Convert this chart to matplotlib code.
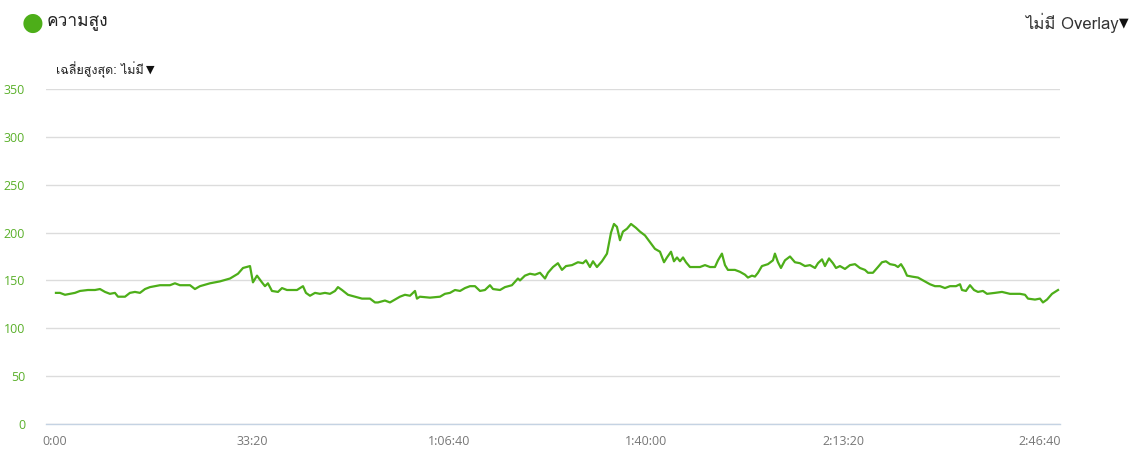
import matplotlib
matplotlib.use("Agg")
import matplotlib.pyplot as plt
from matplotlib import font_manager
from matplotlib.ticker import FuncFormatter

# ---------------- data ----------------
elapsed_s = [10, 51, 102, 152, 203, 254, 335, 406, 457, 508, 558, 609, 640, 711, 761, 812, 863,
             914, 964, 1066, 1167, 1218, 1269, 1371, 1421, 1472, 1574, 1675, 1777, 1858, 1909,
             1980, 2010, 2051, 2101, 2132, 2162, 2203, 2264, 2305, 2355, 2416, 2457, 2487, 2518,
             2548, 2589, 2640, 2690, 2741, 2792, 2843, 2873, 2914, 2975, 3046, 3117, 3198, 3249,
             3279, 3350, 3401, 3452, 3502, 3553, 3604, 3655, 3675, 3705, 3807, 3909, 3959, 4010,
             4061, 4112, 4162, 4213, 4264, 4315, 4365, 4416, 4447, 4518, 4568, 4639, 4700, 4721,
             4771, 4822, 4873, 4924, 4975, 5005, 5056, 5106, 5147, 5188, 5249, 5309, 5360, 5391,
             5431, 5462, 5502, 5553, 5604, 5645, 5675, 5705, 5736, 5766, 5807, 5848, 5898, 5939,
             5990, 6040, 6091, 6142, 6183, 6213, 6254, 6284, 6315, 6345, 6376, 6406, 6447, 6548,
             6599, 6650, 6700, 6731, 6771, 6802, 6832, 6903, 6954, 7005, 7035, 7076, 7106, 7137,
             7177, 7238, 7289, 7309, 7340, 7370, 7411, 7462, 7512, 7563, 7614, 7665, 7716, 7746,
             7787, 7817, 7858, 7898, 7929, 7969, 8020, 8071, 8122, 8172, 8223, 8254, 8304, 8355,
             8396, 8436, 8477, 8528, 8558, 8589, 8619, 8650, 8700, 8761, 8832, 8883, 8934, 8985,
             9035, 9086, 9147, 9188, 9208, 9248, 9289, 9330, 9370, 9421, 9462, 9543, 9614, 9695,
             9797, 9848, 9878, 9949, 10000, 10030, 10071, 10122, 10183]
elevation_m = [137, 137, 135, 136, 137, 139, 140, 140, 141, 138, 136, 137, 133, 133, 137, 138, 137,
               141, 143, 145, 145, 147, 145, 145, 141, 144, 147, 149, 152, 157, 163,
               165, 148, 155, 148, 144, 147, 139, 138, 142, 140, 140, 140, 142, 144,
               137, 134, 137, 136, 137, 136, 139, 143, 140, 135, 133, 131, 131, 127,
               127, 129, 127, 130, 133, 135, 134, 139, 131, 133, 132, 133, 136, 137,
               140, 139, 142, 144, 144, 139, 140, 145, 141, 140, 143, 145, 152, 150,
               155, 157, 156, 158, 152, 158, 164, 168, 161, 165, 166, 169, 168, 171,
               164, 170, 164, 170, 178, 200, 209, 206, 192, 201, 204, 209, 205, 201,
               197, 190, 183, 180, 169, 174, 180, 170, 174, 170, 174, 169, 164, 164,
               166, 164, 164, 171, 178, 166, 161, 161, 159, 156, 153, 155, 154, 158,
               165, 167, 171, 178, 169, 163, 171, 175, 169, 168, 165, 166, 163, 168,
               172, 165, 173, 168, 163, 165, 162, 166, 167, 163, 161, 158, 158, 164,
               169, 170, 167, 166, 164, 167, 162, 155, 154, 153, 149, 146, 144, 144,
               142, 144, 144, 146, 140, 139, 145, 140, 138, 139, 136, 137, 138, 136,
               136, 135, 131, 130, 131, 127, 130, 136, 140]

y_ticks = [0, 50, 100, 150, 200, 250, 300, 350]
x_ticks = [0, 2000, 4000, 6000, 8000, 10000]

title_text = "ความสูง"
avg_text = "เฉลี่ยสูงสุด: ไม่มี"
overlay_text = "ไม่มี Overlay"

# ---------------- fonts ----------------
def find_thai_font():
    try:
        from fontTools.ttLib import TTFont
    except Exception:
        return None
    for f in font_manager.fontManager.ttflist:
        try:
            tt = TTFont(f.fname, fontNumber=0, lazy=True)
            cmap = tt.getBestCmap()
            if cmap and ord("ค") in cmap and ord("ม") in cmap:
                return f.name
        except Exception:
            continue
    return None

thai = find_thai_font()
fams = ([thai] if thai else []) + ["DejaVu Sans"]
plt.rcParams["font.family"] = fams

GREEN = "#4dae19"
TICK_GREEN = "#5ab02a"

fig = plt.figure(figsize=(11.43, 4.49), dpi=100)
ax = fig.add_axes([46 / 1143, 25 / 449, (1060 - 46) / 1143, 335 / 449])

ax.plot(elapsed_s, elevation_m, color=GREEN, lw=1.6, solid_joinstyle="round")

ax.set_xlim(-91, 10203)
ax.set_ylim(0, 350)
ax.set_yticks(y_ticks)
ax.set_xticks(x_ticks)

def fmt_time(t, pos):
    t = int(round(t))
    h, rem = divmod(t, 3600)
    m, s = divmod(rem, 60)
    if h:
        return f"{h}:{m:02d}:{s:02d}"
    return f"{m}:{s:02d}"

ax.xaxis.set_major_formatter(FuncFormatter(fmt_time))
ax.grid(axis="y", color="#dcdcdc", lw=1.0)
ax.set_axisbelow(True)
for sp in ["top", "right", "left"]:
    ax.spines[sp].set_visible(False)
ax.spines["bottom"].set_color("#c5d3e3")
ax.spines["bottom"].set_linewidth(1.0)
ax.tick_params(axis="y", length=0, pad=15, labelsize=9, labelcolor=TICK_GREEN)
ax.tick_params(axis="x", length=0, pad=8, labelsize=9, labelcolor="#777777")
for lbl in ax.get_yticklabels():
    lbl.set_fontfamily(["Open Sans", "DejaVu Sans"])
for lbl in ax.get_xticklabels():
    lbl.set_fontfamily(["Open Sans", "DejaVu Sans"])

# header
fig.text(33 / 1143, 1 - 23 / 449, "\u25CF", color=GREEN, fontsize=18, ha="center", va="center",
         family=["DejaVu Sans"])
fig.text(47 / 1143, 1 - 23 / 449, title_text, fontsize=12.5, color="#222222", ha="left", va="center")
fig.text(1119 / 1143, 1 - 23 / 449, overlay_text, fontsize=12, color="#333333", ha="right", va="center")
fig.text(1119 / 1143, 1 - 23 / 449, "\u25BC", fontsize=9, color="#111111", ha="left", va="center",
         family=["DejaVu Sans"])
fig.text(56 / 1143, 1 - 70 / 449, avg_text, fontsize=9, color="#222222", ha="left", va="center")
fig.text(146 / 1143, 1 - 70 / 449, "\u25BC", fontsize=8, color="#111111", ha="left", va="center",
         family=["DejaVu Sans"])

fig.savefig("out.png", dpi=100)
